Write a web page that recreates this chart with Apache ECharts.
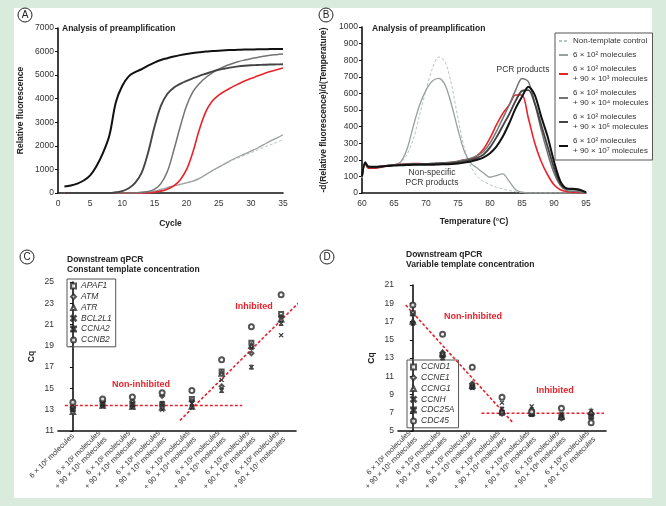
<!DOCTYPE html>
<html><head><meta charset="utf-8">
<script src="https://cdn.jsdelivr.net/npm/echarts@6/dist/echarts.min.js"></script>
<style>html,body{margin:0;padding:0;background:#d9ebdd;}#c{width:666px;height:506px;}</style>
</head><body><div id="c"></div>
<script>
// ---------- Panel A data ----------
const cycles = [1,2,3,4,5,6,7,8,9,10,11,12,13,14,15,16,17,18,19,20,21,22,23,24,25,26,27,28,29,30,31,32,33,34,35];
const aNTC = [0,0,0,0,0,0,0,0,0,0,0,0,0,20,60,130,210,290,360,430,510,620,770,930,1080,1230,1370,1490,1600,1710,1820,1930,2040,2150,2260];
const a6e2 = [0,0,0,0,0,0,0,0,0,0,0,0,0,30,80,150,230,300,370,430,500,620,780,950,1100,1250,1400,1530,1650,1780,1900,2050,2200,2330,2470];
const a1e3 = [0,0,0,0,0,0,0,0,0,0,0,0,0,0,30,80,160,300,550,1000,1750,2700,3450,3900,4150,4330,4480,4620,4750,4860,4960,5060,5150,5230,5300];
const a1e4 = [0,0,0,0,0,0,0,0,0,0,0,0,30,60,150,400,900,1800,2800,3700,4300,4650,4900,5100,5250,5380,5480,5570,5640,5700,5750,5800,5840,5870,5900];
const a1e5 = [0,0,0,0,0,0,0,0,30,80,200,430,850,1700,2800,3700,4200,4470,4630,4760,4870,4970,5060,5150,5230,5280,5330,5370,5400,5420,5430,5440,5450,5455,5460];
const a1e7 = [280,320,400,530,750,1150,1700,2450,3850,4550,4950,5130,5250,5400,5530,5640,5720,5790,5850,5900,5940,5970,6000,6020,6040,6055,6065,6075,6085,6090,6095,6100,6105,6110,6110];
const aYTicks = [0,7000,1000];
const aXTicks = [0,35,5];

// ---------- Panel B data ----------
const bTemp = [60,60.5,61,62,63,64,65,66,67,68,69,70,71,72,73,74,75,76,77,78,79,80,81,82,83,84,85,86,87,88,89,90,91,92,93,94,95];
const bNTC = [90,175,150,155,160,165,170,180,230,320,470,620,750,820,790,650,450,270,160,100,70,50,35,25,15,8,3,0,0,0,0,0,0,0,0,0,0];
const b6e2 = [90,175,150,155,160,165,170,185,260,400,530,620,675,690,650,530,380,250,180,150,120,95,105,115,70,20,5,0,0,0,0,0,0,0,0,0,0];
const b1e3 = [100,180,150,150,155,165,170,172,175,178,178,175,175,178,180,185,190,200,205,225,265,330,410,480,530,590,590,450,300,190,110,50,20,8,4,2,0];
const b1e4 = [95,178,155,155,160,165,170,172,175,176,176,176,178,180,182,186,192,200,210,225,250,300,370,450,530,620,690,670,540,380,240,120,45,15,10,8,0];
const b1e5 = [100,180,155,155,160,165,168,170,172,173,174,175,176,177,178,180,185,192,200,212,232,275,335,405,475,555,615,620,540,410,280,150,55,25,22,18,3];
const b1e7 = [100,185,160,158,160,163,165,167,168,170,170,170,170,172,173,175,178,183,190,200,215,240,280,340,420,510,580,640,590,460,340,190,70,28,25,20,5];
const bNames = ['Non-template control','6 × 10² molecules','6 × 10² molecules\n+ 90 × 10³ molecules','6 × 10² molecules\n+ 90 × 10⁴ molecules','6 × 10² molecules\n+ 90 × 10⁵ molecules','6 × 10² molecules\n+ 90 × 10⁷ molecules'];

// ---------- Panel C data ----------
const cCategories = ['6 × 10² molecules','6 × 10² molecules\n+ 90 × 10¹ molecules','6 × 10² molecules\n+ 90 × 10² molecules','6 × 10² molecules\n+ 90 × 10³ molecules','6 × 10² molecules\n+ 90 × 10⁴ molecules','6 × 10² molecules\n+ 90 × 10⁵ molecules','6 × 10² molecules\n+ 90 × 10⁶ molecules','6 × 10² molecules\n+ 90 × 10⁷ molecules'];
const cGenes = ['APAF1','ATM','ATR','BCL2L1','CCNA2','CCNB2'];
const cAPAF1 = [13.1,13.6,13.5,13.5,14.0,16.6,19.3,22.0];
const cATM = [13.2,13.8,13.8,14.3,13.8,15.2,18.3,21.7];
const cATR = [12.8,13.4,13.3,13.2,13.3,16.4,19.0,21.5];
const cBCL2L1 = [13.0,13.3,13.2,13.0,13.2,15.8,18.8,20.0];
const cCCNA2 = [13.0,13.5,13.5,13.6,13.6,14.8,17.0,21.1];
const cCCNB2 = [13.7,14.0,14.2,14.6,14.8,17.7,20.8,23.8];
const cFlat = [[-0.27,13.4],[5.69,13.4]];
const cRise = [[3.6,12.0],[7.75,23.5]];

// ---------- Panel D data ----------
const dCategories = ['6 × 10² molecules\n+ 90 × 10¹ molecules','6 × 10² molecules\n+ 90 × 10² molecules','6 × 10² molecules\n+ 90 × 10³ molecules','6 × 10² molecules\n+ 90 × 10⁴ molecules','6 × 10² molecules\n+ 90 × 10⁵ molecules','6 × 10² molecules\n+ 90 × 10⁶ molecules','6 × 10² molecules\n+ 90 × 10⁷ molecules'];
const dGenes = ['CCND1','CCNE1','CCNG1','CCNH','CDC25A','CDC45'];
const dCCND1 = [17.9,13.3,9.9,7.0,6.9,6.5,6.6];
const dCCNE1 = [16.9,13.6,10.2,6.9,7.3,6.4,6.9];
const dCCNG1 = [17.0,13.5,10.0,7.2,7.0,6.6,7.1];
const dCCNH = [17.8,13.2,9.7,8.1,7.7,6.9,7.2];
const dCDC25A = [16.8,13.0,9.8,7.4,6.8,6.7,6.5];
const dCDC45 = [18.8,15.6,12.0,8.7,7.1,7.5,5.9];
const dFall = [[-0.24,18.8],[3.37,5.9]];
const dFlat = [[2.31,6.95],[6.43,6.95]];

// ---------- styling ----------
const FONT = "'Liberation Sans', Arial, Helvetica, sans-serif";
const RED = '#e8232b';
const AX = '#111';
const TXT = '#333';
const crossPath = 'path://M1,0L5,4L9,0L10,1L6,5L10,9L9,10L5,6L1,10L0,9L4,5L0,1Z';
const hourPath = 'path://M0,0L10,0L10,1.5L6,5L10,8.5L10,10L0,10L0,8.5L4,5L0,1.5Z';
const geneSymbols = ['emptyRect','emptyDiamond','emptyTriangle',crossPath,hourPath,'emptyCircle'];
const geneSizes = [4,4,4.5,4,4,5];

const pairs = (xs, ys) => xs.map((x,i)=>[x, ys[i]]);

const lineStyles = [
  {color:'#b9c3c3', width:1, type:[3,2]},
  {color:'#9a9f9f', width:1.3},
  {color:RED, width:1.6},
  {color:'#737373', width:1.5},
  {color:'#454545', width:1.9},
  {color:'#111111', width:2}
];

function valAxis(grid, min, max, interval, extra){
  return Object.assign({
    type:'value', gridIndex:grid, min, max, interval,
    splitLine:{show:false},
    axisLine:{show:true, lineStyle:{color:AX, width:1.6}},
    axisTick:{show:true, length:3, lineStyle:{color:AX, width:1}},
    axisLabel:{fontFamily:FONT, fontSize:8.5, color:TXT, margin:4, formatter:v=>String(v)},
    nameTextStyle:{fontFamily:FONT, fontSize:8.5, fontWeight:'bold', color:'#222'}
  }, extra||{});
}
function catAxis(grid, data){
  return {
    type:'category', gridIndex:grid, data, boundaryGap:true,
    axisLine:{show:true, lineStyle:{color:AX, width:1.6}},
    axisTick:{show:false},
    axisLabel:{interval:0, rotate:45, fontFamily:FONT, fontSize:7.5, color:TXT, margin:4, lineHeight:9}
  };
}

const series = [];
// Panel A
const aData = [aNTC,a6e2,a1e3,a1e4,a1e5,a1e7];
aData.forEach((arr,i)=>{
  series.push({name:'A'+i, type:'line', xAxisIndex:0, yAxisIndex:0, data:pairs(cycles,arr),
    showSymbol:false, symbol:'none', smooth:0.35, lineStyle:lineStyles[i], silent:true, z:2+i});
});
// Panel B
const bData = [bNTC,b6e2,b1e3,b1e4,b1e5,b1e7];
bData.forEach((arr,i)=>{
  series.push({name:bNames[i], type:'line', xAxisIndex:1, yAxisIndex:1, data:pairs(bTemp,arr),
    showSymbol:false, symbol:'none', smooth:0.3, lineStyle:lineStyles[i], itemStyle:{color:lineStyles[i].color}, silent:true, z:2+i});
});
// Panel C
const cData = [cAPAF1,cATM,cATR,cBCL2L1,cCCNA2,cCCNB2];
cData.forEach((arr,i)=>{
  series.push({name:cGenes[i], type:'scatter', xAxisIndex:2, yAxisIndex:2, data:arr,
    symbol:geneSymbols[i], symbolSize:geneSizes[i], itemStyle:{color:'#2a2a2a', borderColor:'#2a2a2a', borderWidth:1}, z:5});
});
[cFlat,cRise].forEach(seg=>{
  series.push({type:'line', xAxisIndex:3, yAxisIndex:2, data:seg, symbol:'none', clip:false,
    lineStyle:{color:RED, width:1.6, type:[3,2]}, silent:true, z:4});
});
// Panel D
const dData = [dCCND1,dCCNE1,dCCNG1,dCCNH,dCDC25A,dCDC45];
dData.forEach((arr,i)=>{
  series.push({name:dGenes[i], type:'scatter', xAxisIndex:4, yAxisIndex:3, data:arr,
    symbol:geneSymbols[i], symbolSize:geneSizes[i], itemStyle:{color:'#2a2a2a', borderColor:'#2a2a2a', borderWidth:1}, z:5});
});
[dFall,dFlat].forEach(seg=>{
  series.push({type:'line', xAxisIndex:5, yAxisIndex:3, data:seg, symbol:'none', clip:false,
    lineStyle:{color:RED, width:1.6, type:[3,2]}, silent:true, z:4});
});

const titleStyle = {fontFamily:FONT, fontSize:8.5, fontWeight:'bold', color:'#222', lineHeight:10};
function letter(x,y,t){
  return [
    {type:'circle', shape:{cx:x, cy:y, r:7}, style:{fill:'#fff', stroke:'#222', lineWidth:1}, z:10},
    {type:'text', x:x, y:y+0.5, style:{text:t, font:'10px '+FONT, fill:'#222', align:'center', verticalAlign:'middle'}, z:11}
  ];
}
function label(x,y,t,opts){
  return {type:'text', x, y, style:Object.assign({text:t, font:'8.5px '+FONT, fill:'#333', align:'center', verticalAlign:'middle'}, opts||{}), z:11};
}
const geneLegend = (names, left, top) => ({
  data:names, orient:'vertical', left, top, padding:[2,4,2,3], itemGap:1, itemWidth:5, itemHeight:5,
  borderColor:'#555', borderWidth:1, selectedMode:false,
  textStyle:{fontFamily:FONT, fontSize:8.5, fontStyle:'italic', color:TXT, lineHeight:9.8}
});

const option = {
  backgroundColor:'#d9ebdd',
  animation:false,
  title:[
    {text:'Analysis of preamplification', left:62, top:24, textStyle:titleStyle, padding:0},
    {text:'Analysis of preamplification', left:372, top:24, textStyle:titleStyle, padding:0},
    {text:'Downstream qPCR\nConstant template concentration', left:67, top:255, textStyle:titleStyle, padding:0},
    {text:'Downstream qPCR\nVariable template concentration', left:406, top:250, textStyle:titleStyle, padding:0}
  ],
  grid:[
    {left:58, right:383, top:28, bottom:313},
    {left:362, right:80, top:27, bottom:313},
    {left:58, right:370, top:282, bottom:75},
    {left:398, right:60, top:285, bottom:75}
  ],
  xAxis:[
    valAxis(0, aXTicks[0], aXTicks[1], aXTicks[2], {name:'Cycle', nameLocation:'middle', nameGap:26, axisTick:{show:false}, axisLabel:{fontFamily:FONT, fontSize:8.5, color:TXT, margin:6}}),
    valAxis(1, 60, 95, 5, {name:'Temperature (°C)', nameLocation:'middle', nameGap:24, axisTick:{show:false}, axisLabel:{fontFamily:FONT, fontSize:8.5, color:TXT, margin:6}}),
    catAxis(2, cCategories),
    {type:'value', gridIndex:2, min:-0.5, max:7.5, show:false},
    catAxis(3, dCategories),
    {type:'value', gridIndex:3, min:-0.5, max:6.5, show:false}
  ],
  yAxis:[
    valAxis(0, aYTicks[0], aYTicks[1], aYTicks[2], {name:'Relative fluorescence', nameLocation:'middle', nameGap:33}),
    valAxis(1, 0, 1000, 100, {name:'-d(Relative fluorescence)/d(Temperature)', nameLocation:'middle', nameGap:34}),
    valAxis(2, 11, 25, 2, {name:'Cq', nameLocation:'middle', nameGap:22}),
    valAxis(3, 5, 21, 2, {name:'Cq', nameLocation:'middle', nameGap:22})
  ],
  legend:[
    {data:bNames, orient:'vertical', left:555, top:33, padding:[3,4,4,3], itemGap:4, itemWidth:9, itemHeight:8,
     borderColor:'#555', borderWidth:1, backgroundColor:'#fff', selectedMode:false,
     itemStyle:{opacity:0, borderWidth:0},
     textStyle:{fontFamily:FONT, fontSize:8, color:TXT, lineHeight:10}},
    geneLegend(cGenes, 67, 279),
    geneLegend(dGenes, 407, 360)
  ],
  graphic:[
    {type:'rect', shape:{x:14, y:8, width:638, height:490}, style:{fill:'#ffffff'}, z:-10, silent:true},
    ...letter(25,15,'A'), ...letter(326,15,'B'), ...letter(27,257,'C'), ...letter(327,257,'D'),
    label(523,70,'PCR products'),
    label(432,173,'Non-specific'),
    label(432,183,'PCR products'),
    label(141,385,'Non-inhibited',{fill:RED, font:'bold 9px '+FONT}),
    label(254,307,'Inhibited',{fill:RED, font:'bold 9px '+FONT}),
    label(473,317,'Non-inhibited',{fill:RED, font:'bold 9px '+FONT}),
    label(555,391,'Inhibited',{fill:RED, font:'bold 9px '+FONT})
  ],
  series
};
const chart = echarts.init(document.getElementById('c'), null, {renderer:'canvas'});
chart.setOption(option);
</script></body></html>
